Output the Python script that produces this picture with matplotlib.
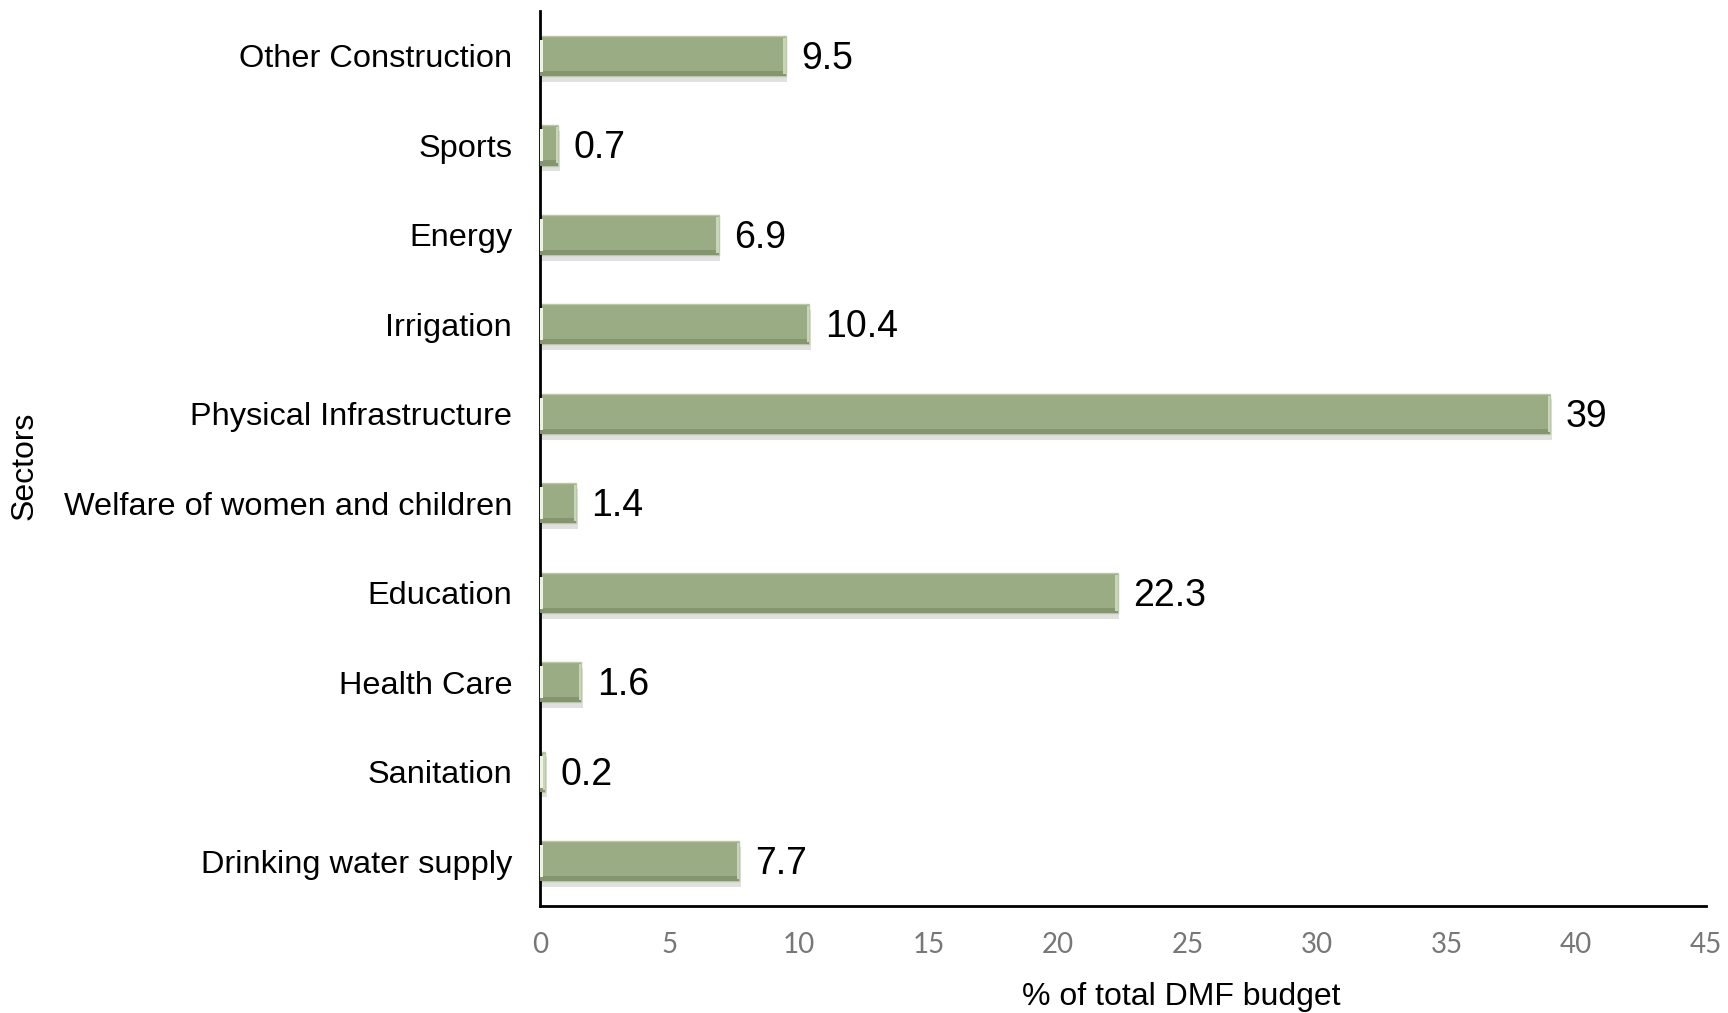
import matplotlib.pyplot as plt
import matplotlib.patheffects as pe

sectors = ['Drinking water supply', 'Sanitation', 'Health Care', 'Education',
           'Welfare of women and children', 'Physical Infrastructure',
           'Irrigation', 'Energy', 'Sports', 'Other Construction']
share = [7.7, 0.2, 1.6, 22.3, 1.4, 39, 10.4, 6.9, 0.7, 9.5]
x_ticks = [0, 5, 10, 15, 20, 25, 30, 35, 40, 45]

plt.rcParams['font.family'] = ['Liberation Sans', 'DejaVu Sans']

fig = plt.figure(figsize=(17.28, 10.13), dpi=100)
ax = fig.add_axes([0.3125, 0.1056, 0.6745, 0.8834])

pos = list(range(len(sectors)))
h = 0.45
shadow = [pe.SimplePatchShadow(offset=(1, -4), shadow_rgbFace='#9a9a9a', alpha=0.3),
          pe.Normal()]
ax.barh(pos, share, height=h, color='#9aac84', edgecolor='#b9c8a6',
        linewidth=1.0, path_effects=shadow, zorder=2)
# darker bevel along the bottom of each bar
ax.barh([p - h / 2 + 0.03 for p in pos], share, height=0.06,
        color='#84956f', linewidth=0, zorder=3)
# light highlights at both ends
ax.barh(pos, [0.1] * len(pos), left=[v - 0.1 for v in share], height=h * 0.9,
        color='#c8d5b6', linewidth=0, zorder=3)
ax.barh(pos, [min(0.12, v) for v in share], height=h * 0.8,
        color='#eef3e4', linewidth=0, zorder=3)

for p, v in zip(pos, share):
    ax.annotate(f'{v:g}', (v, p), xytext=(11, -2), textcoords='offset points',
                va='center', ha='left', fontsize=27, color='black')

ax.set_xlim(0, 45)
ax.set_ylim(-0.5, 9.5)
ax.set_xticks(x_ticks)
ax.set_yticks(pos)
ax.set_yticklabels(sectors, fontsize=23.4)
ax.tick_params(axis='x', length=0, pad=19, labelsize=20, labelcolor='#777777')
ax.tick_params(axis='y', length=0, pad=20)
for lab in ax.get_xticklabels():
    lab.set_family(['Lato', 'DejaVu Sans'])

ax.spines['top'].set_visible(False)
ax.spines['right'].set_visible(False)
ax.spines['left'].set_linewidth(2)
ax.spines['bottom'].set_linewidth(2)

ax.set_xlabel('% of total DMF budget', fontsize=23)
ax.xaxis.set_label_coords(0.55, -0.085)
fig.text(0.014, 0.54, 'Sectors', rotation=90, fontsize=23, va='center', ha='center')

fig.savefig('out.png', dpi=100)
